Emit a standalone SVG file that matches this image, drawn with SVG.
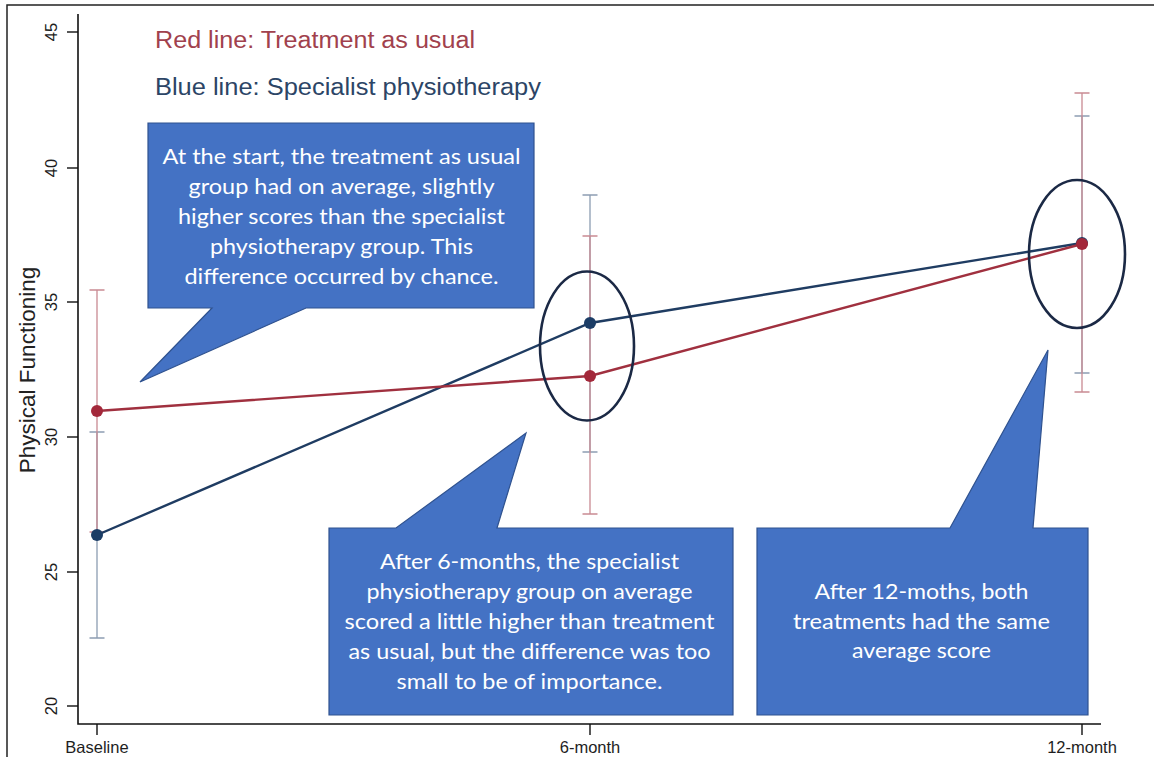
<svg xmlns="http://www.w3.org/2000/svg" width="1154" height="757" viewBox="0 0 1154 757">
<style>
.frame{stroke:#222;stroke-width:1.5;fill:none}
.axis{stroke:#111;stroke-width:1.6;fill:none}
.tick{stroke:#111;stroke-width:1.4}
.tl{font-family:"Liberation Sans",Arial,sans-serif;font-size:16.5px;fill:#1e1e1e}
.ytitle{font-family:"Liberation Sans",Arial,sans-serif;font-size:22.5px;fill:#222}
.leg{font-family:"Liberation Sans",Arial,sans-serif;font-size:23px}
.cir{stroke:#c98a93;stroke-width:1.3;fill:none}
.cib{stroke:#8d9db2;stroke-width:1.3;fill:none}
.lr{stroke:#a0303f;stroke-width:2.4;fill:none}
.lb{stroke:#1f3c62;stroke-width:2.4;fill:none}
.dr{fill:#a3283a}
.db{fill:#1c3d66}
.ell{stroke:#1b2945;stroke-width:2.6;fill:none}
.call{fill:#4472c4;stroke:#2f528f;stroke-width:1.2}
.ct{font-family:Lato,"Open Sans",sans-serif;font-size:20.5px;fill:#ffffff;text-anchor:middle}
</style>

<!-- frame -->
<path class="frame" d="M7,757 V5 H1154"/>

<!-- axes -->
<g id="axes">
<path class="axis" d="M78,14 V724 H1101"/>
<g class="tick">
<line x1="67" y1="32" x2="78" y2="32"/>
<line x1="67" y1="168" x2="78" y2="168"/>
<line x1="67" y1="302" x2="78" y2="302"/>
<line x1="67" y1="437" x2="78" y2="437"/>
<line x1="67" y1="572" x2="78" y2="572"/>
<line x1="67" y1="706" x2="78" y2="706"/>
<line x1="97" y1="724" x2="97" y2="735"/>
<line x1="590" y1="724" x2="590" y2="735"/>
<line x1="1082" y1="724" x2="1082" y2="735"/>
</g>
<g class="tl" text-anchor="middle">
<text transform="translate(57,32) rotate(-90)">45</text>
<text transform="translate(57,168) rotate(-90)">40</text>
<text transform="translate(57,302) rotate(-90)">35</text>
<text transform="translate(57,437) rotate(-90)">30</text>
<text transform="translate(57,572) rotate(-90)">25</text>
<text transform="translate(57,706) rotate(-90)">20</text>
<text x="97" y="753">Baseline</text>
<text x="590" y="753">6-month</text>
<text x="1082" y="753">12-month</text>
</g>
<text class="ytitle" text-anchor="middle" transform="translate(35,370) rotate(-90)">Physical Functioning</text>
</g>

<!-- legend -->
<g id="legend">
<text class="leg" x="155" y="48" fill="#a1414d" textLength="320" lengthAdjust="spacingAndGlyphs">Red line: Treatment as usual</text>
<text class="leg" x="155" y="95" fill="#2c4566" textLength="386" lengthAdjust="spacingAndGlyphs">Blue line: Specialist physiotherapy</text>
</g>

<!-- connectors: error bars and lines -->
<g id="connectors">
<g class="cib">
<path d="M97,432 V638 M89.5,432 H104.5 M89.5,638 H104.5"/>
<path d="M590,195 V452 M582.5,195 H597.5 M582.5,452 H597.5"/>
<path d="M1082,116 V373 M1074.5,116 H1089.5 M1074.5,373 H1089.5"/>
</g>
<g class="cir">
<path d="M97,290 V532 M89.5,290 H104.5 M89.5,532 H104.5"/>
<path d="M590,236 V514 M582.5,236 H597.5 M582.5,514 H597.5"/>
<path d="M1082,93 V392 M1074.5,93 H1089.5 M1074.5,392 H1089.5"/>
</g>
<polyline class="lb" points="97,535 590,323 1082,243"/>
<polyline class="lr" points="97,411 590,376 1082,244"/>
</g>

<g id="points">
<circle class="db" cx="97" cy="535" r="6"/>
<circle class="db" cx="590" cy="323" r="6"/>
<circle class="db" cx="1082" cy="243" r="6"/>
<circle class="dr" cx="97" cy="411" r="6"/>
<circle class="dr" cx="590" cy="376" r="6"/>
<circle class="dr" cx="1082" cy="244" r="6"/>
</g>

<g id="ellipse-6month"><ellipse class="ell" cx="587" cy="346" rx="47" ry="74.5"/></g>
<g id="ellipse-12month"><ellipse class="ell" cx="1077" cy="254" rx="48" ry="74"/></g>

<g id="callout-start">
<path class="call" d="M148,123 H534 V308 H306 L140,382 L212,308 H148 Z"/>
<text class="ct" x="341.5" y="164" textLength="358" lengthAdjust="spacingAndGlyphs">At the start, the treatment as usual</text>
<text class="ct" x="341.5" y="194" textLength="306" lengthAdjust="spacingAndGlyphs">group had on average, slightly</text>
<text class="ct" x="341.5" y="224" textLength="327" lengthAdjust="spacingAndGlyphs">higher scores than the specialist</text>
<text class="ct" x="341.5" y="254" textLength="263" lengthAdjust="spacingAndGlyphs">physiotherapy group. This</text>
<text class="ct" x="341.5" y="284" textLength="314" lengthAdjust="spacingAndGlyphs">difference occurred by chance.</text>
</g>

<g id="callout-6month">
<path class="call" d="M329,528 H396 L526,433 L497,528 H733 V715 H329 Z"/>
<text class="ct" x="529.5" y="569" textLength="299" lengthAdjust="spacingAndGlyphs">After 6-months, the specialist</text>
<text class="ct" x="529.5" y="599" textLength="326" lengthAdjust="spacingAndGlyphs">physiotherapy group on average</text>
<text class="ct" x="529.5" y="629" textLength="370" lengthAdjust="spacingAndGlyphs">scored a little higher than treatment</text>
<text class="ct" x="529.5" y="659" textLength="362" lengthAdjust="spacingAndGlyphs">as usual, but the difference was too</text>
<text class="ct" x="529.5" y="689" textLength="266" lengthAdjust="spacingAndGlyphs">small to be of importance.</text>
</g>

<g id="callout-12month">
<path class="call" d="M757,528 H950 L1048,350 L1033,528 H1088 V715 H757 Z"/>
<text class="ct" x="921.5" y="599" textLength="214" lengthAdjust="spacingAndGlyphs">After 12-moths, both</text>
<text class="ct" x="921.5" y="629" textLength="257" lengthAdjust="spacingAndGlyphs">treatments had the same</text>
<text class="ct" x="921.5" y="658" textLength="139" lengthAdjust="spacingAndGlyphs">average score</text>
</g>
</svg>
